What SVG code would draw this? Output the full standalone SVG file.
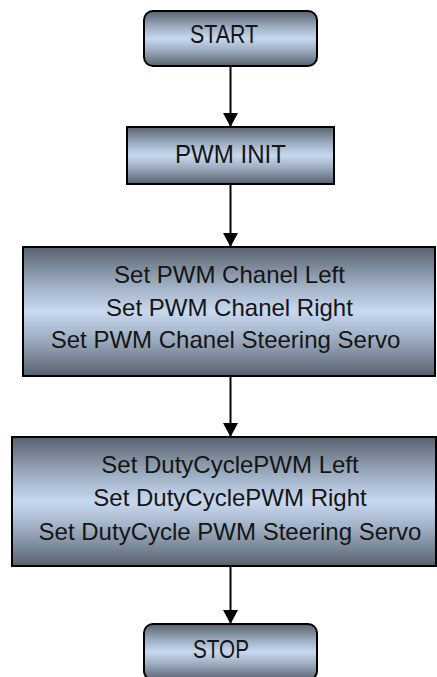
<svg xmlns="http://www.w3.org/2000/svg" width="437" height="677" viewBox="0 0 437 677">
  <defs>
    <linearGradient id="steel" x1="0" y1="0" x2="0" y2="1">
      <stop offset="0" stop-color="#58626e"/>
      <stop offset="0.3" stop-color="#a0b0c4"/>
      <stop offset="0.5" stop-color="#c8d8ef"/>
      <stop offset="0.7" stop-color="#a0b0c4"/>
      <stop offset="1" stop-color="#58626e"/>
    </linearGradient>
    <marker id="arrow" viewBox="0 0 14 15" refX="14" refY="7.5" markerWidth="14" markerHeight="15" markerUnits="userSpaceOnUse" orient="auto">
      <path d="M0,0 L14,7.5 L0,15 Z" fill="#000"/>
    </marker>
  </defs>
  <style>
    .box { fill: url(#steel); stroke: #000; stroke-width: 2; }
    .lbl { font-family: "Liberation Sans", Arial, sans-serif; font-size: 24px; fill: #151515; text-anchor: middle; }
    .big { font-size: 26px; }
    .edge { stroke: #000; stroke-width: 2; fill: none; marker-end: url(#arrow); }
  </style>

  <rect width="437" height="677" fill="#fff"/>

  <g id="connectors">
    <line class="edge" x1="230.5" y1="66" x2="230.5" y2="127"/>
    <line class="edge" x1="230.5" y1="184" x2="230.5" y2="247"/>
    <line class="edge" x1="230.5" y1="376" x2="230.5" y2="437"/>
    <line class="edge" x1="230.5" y1="566" x2="230.5" y2="624"/>
  </g>

  <g id="start">
    <rect class="box" x="144" y="11" width="173" height="55" rx="9"/>
    <text class="lbl big" x="224" y="43" textLength="68" lengthAdjust="spacingAndGlyphs">START</text>
  </g>

  <g id="pwm-init">
    <rect class="box" x="127" y="127" width="207" height="57"/>
    <text class="lbl big" x="230.5" y="163" textLength="111" lengthAdjust="spacingAndGlyphs">PWM INIT</text>
  </g>

  <g id="set-channels">
    <rect class="box" x="23" y="247" width="412" height="129"/>
    <text class="lbl" x="229.5" y="283">Set PWM Chanel Left</text>
    <text class="lbl" x="229.5" y="316">Set PWM Chanel Right</text>
    <text class="lbl" x="225.5" y="348">Set PWM Chanel Steering Servo</text>
  </g>

  <g id="set-duty">
    <rect class="box" x="12" y="437" width="424" height="129"/>
    <text class="lbl" x="230" y="473">Set DutyCyclePWM Left</text>
    <text class="lbl" x="230" y="506">Set DutyCyclePWM Right</text>
    <text class="lbl" x="230" y="540">Set DutyCycle PWM Steering Servo</text>
  </g>

  <g id="stop">
    <rect class="box" x="144" y="624" width="173" height="56" rx="9"/>
    <text class="lbl big" x="221" y="658" textLength="56" lengthAdjust="spacingAndGlyphs">STOP</text>
  </g>
</svg>
